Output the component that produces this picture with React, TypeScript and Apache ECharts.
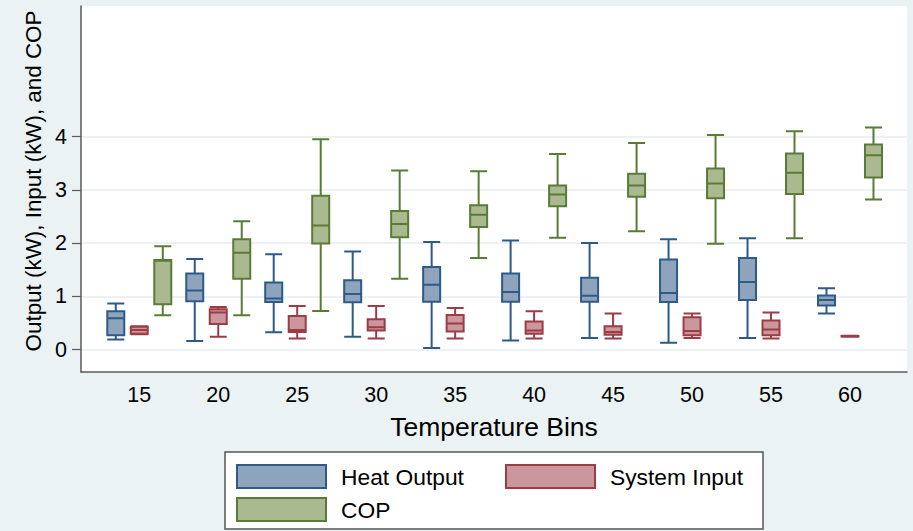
import React, { useEffect, useRef } from "react";
import * as echarts from "echarts";

const temps = ["15", "20", "25", "30", "35", "40", "45", "50", "55", "60"];

// [min, Q1, median, Q3, max]
const heatOutput = [
  [0.19, 0.27, 0.59, 0.72, 0.865],
  [0.16, 0.91, 1.11, 1.43, 1.7],
  [0.325, 0.895, 0.96, 1.26, 1.79],
  [0.24, 0.89, 1.045, 1.3, 1.84],
  [0.03, 0.9, 1.22, 1.55, 2.02],
  [0.17, 0.9, 1.08, 1.43, 2.05],
  [0.22, 0.9, 1.01, 1.35, 2.0],
  [0.13, 0.895, 1.065, 1.69, 2.07],
  [0.22, 0.93, 1.27, 1.72, 2.09],
  [0.68, 0.83, 0.93, 1.015, 1.15],
];

const systemInput = [
  [0.29, 0.3, 0.37, 0.43, 0.44],
  [0.24, 0.48, 0.695, 0.76, 0.8],
  [0.21, 0.33, 0.37, 0.63, 0.82],
  [0.21, 0.36, 0.42, 0.57, 0.82],
  [0.21, 0.34, 0.49, 0.65, 0.78],
  [0.21, 0.3, 0.36, 0.53, 0.72],
  [0.21, 0.28, 0.33, 0.44, 0.68],
  [0.22, 0.27, 0.35, 0.61, 0.68],
  [0.21, 0.27, 0.38, 0.545, 0.695],
  [0.24, 0.245, 0.25, 0.255, 0.26],
];

const cop = [
  [0.645, 0.85, 1.67, 1.68, 1.94],
  [0.645, 1.33, 1.82, 2.07, 2.41],
  [0.726, 1.99, 2.33, 2.89, 3.95],
  [1.33, 2.11, 2.36, 2.6, 3.36],
  [1.72, 2.3, 2.53, 2.71, 3.35],
  [2.1, 2.69, 2.91, 3.08, 3.67],
  [2.22, 2.87, 3.08, 3.3, 3.88],
  [1.985, 2.84, 3.12, 3.4, 4.03],
  [2.09, 2.92, 3.32, 3.68, 4.1],
  [2.82, 3.23, 3.65, 3.85, 4.17],
];

const yTicks = [0, 1, 2, 3, 4];

const FONT = "'Liberation Sans', Arial, sans-serif";

const seriesDefs = [
  { name: "Heat Output", data: heatOutput, fill: "#8ea4bc", stroke: "#2d5a87" },
  { name: "System Input", data: systemInput, fill: "#c9979c", stroke: "#9c3d46" },
  { name: "COP", data: cop, fill: "#aab990", stroke: "#5a7b36" },
];

export default function App() {
  const ref = useRef<HTMLDivElement>(null);

  useEffect(() => {
    if (!ref.current) return;
    const chart = echarts.init(ref.current, undefined, { renderer: "svg" });

    const legendPos = [
      { left: 236, top: 464 },
      { left: 505, top: 464 },
      { left: 236, top: 497 },
    ];

    const option: any = {
      animation: false,
      backgroundColor: "#eaf2f3",
      textStyle: { fontFamily: FONT },
      grid: {
        left: 81,
        top: 6,
        width: 826,
        height: 366,
        show: true,
        backgroundColor: "#ffffff",
        borderWidth: 0,
      },
      xAxis: {
        type: "value",
        min: -0.738,
        max: 9.722,
        name: "Temperature Bins",
        nameLocation: "middle",
        nameGap: 41,
        nameTextStyle: { fontSize: 26.5, color: "#000", fontFamily: FONT },
        axisLine: { show: true, onZero: false, lineStyle: { color: "#5a5a5a", width: 1.5 } },
        axisTick: { show: false },
        splitLine: { show: false },
        axisLabel: {
          customValues: temps.map((_, i) => i),
          formatter: (v: number) => temps[Math.round(v)] ?? "",
          fontSize: 21.5,
          color: "#000",
          margin: 12,
          fontFamily: FONT,
        },
      },
      yAxis: {
        type: "value",
        min: -0.42,
        max: 6.45,
        axisLine: { show: true, onZero: false, lineStyle: { color: "#5a5a5a", width: 1.5 } },
        axisTick: {
          show: true,
          customValues: yTicks,
          length: 9,
          lineStyle: { color: "#5a5a5a", width: 1.2 },
        },
        axisLabel: {
          customValues: yTicks,
          fontSize: 21.5,
          color: "#000",
          margin: 14,
          fontFamily: FONT,
        },
        splitLine: { show: true, lineStyle: { color: "#e6eef0", width: 1.5 } },
      },
      legend: seriesDefs.map((s, i) => ({
        data: [
          {
            name: s.name,
            icon: "rect",
            itemStyle: { color: s.fill, borderColor: s.stroke, borderWidth: 2 },
          },
        ],
        left: legendPos[i].left,
        top: legendPos[i].top,
        itemWidth: 89,
        itemHeight: 23,
        selectedMode: false,
        padding: 0,
        textStyle: { fontSize: 22.8, color: "#000", fontFamily: FONT, padding: [0, 0, 0, 10] },
      })),
      graphic: [
        {
          type: "rect",
          shape: { x: 225, y: 452, width: 538, height: 77 },
          style: { fill: "#ffffff", stroke: "#555555", lineWidth: 1.5 },
          z: 0,
        },
        {
          type: "text",
          x: 33,
          y: 181,
          rotation: Math.PI / 2,
          style: {
            text: "Output (kW), Input (kW), and COP",
            fontSize: 22.4,
            fill: "#000",
            fontFamily: FONT,
            align: "center",
            verticalAlign: "middle",
          },
          z: 5,
        },
      ],
      series: seriesDefs.map((s) => ({
        name: s.name,
        type: "boxplot",
        boxWidth: [17, 17],
        data: s.data.map((d, i) => [i, ...d]),
        itemStyle: { color: s.fill, borderColor: s.stroke, borderWidth: 2 },
        emphasis: { disabled: true },
      })),
    };

    chart.setOption(option);
    return () => chart.dispose();
  }, []);

  return (
    <div
      ref={ref}
      style={{ position: "fixed", left: 0, top: 0, width: 913, height: 531 }}
    />
  );
}
